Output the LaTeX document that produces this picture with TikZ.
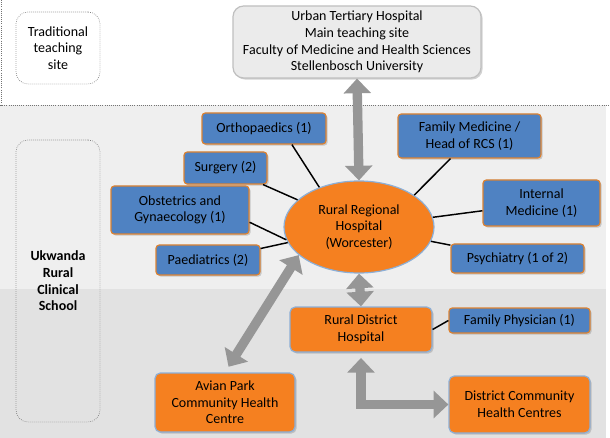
\documentclass[tikz,border=0pt]{standalone}
\usepackage{fontspec}
\setmainfont{Carlito}
\usetikzlibrary{arrows.meta,shadows,shapes.geometric}
\tikzset{every picture/.style={line width=0.75pt}}
\definecolor{boxblue}{RGB}{79,130,194}
\definecolor{boxblueline}{RGB}{220,130,50}
\definecolor{boxorange}{RGB}{245,128,32}
\definecolor{boxorangeline}{RGB}{140,175,215}
\definecolor{bandlight}{RGB}{239,239,239}
\definecolor{banddark}{RGB}{226,226,226}
\definecolor{arrowgray}{RGB}{150,150,150}

\begin{document}
\begin{tikzpicture}[x=0.75pt,y=0.75pt,yscale=-1,xscale=1,
  sz/.style 2 args={minimum width=#1*0.75pt,minimum height=#2*0.75pt},
  lbl/.style={align=center,inner sep=1pt,text=black,font=\fontsize{10.5}{12.5}\selectfont},
  shade/.style={drop shadow={shadow xshift=1.2pt,shadow yshift=-1.2pt,opacity=0.35}},
  bluebox/.style={lbl,rectangle,rounded corners=2.5pt,fill=boxblue,draw=boxblueline,line width=0.9pt,shade},
  orangebox/.style={lbl,rectangle,rounded corners=4pt,fill=boxorange,draw=boxorangeline,line width=0.9pt,shade},
  sitebox/.style={lbl,rectangle,rounded corners=9pt,draw=black!55,densely dotted,line width=0.5pt},
  spoke/.style={draw=black,line width=1.1pt},
  dblarr/.style={draw=arrowgray,line width=7pt,{Triangle[width=20pt,length=11pt]}-{Triangle[width=20pt,length=11pt]}}]
\useasboundingbox (0,0) rectangle (610,438);

%Background bands
\fill[white] (0,0) rectangle (610,438);
\fill[bandlight] (0,105) rectangle (606,289);
\fill[banddark] (0,289) rectangle (606,438);
\draw[black!55,densely dotted,line width=0.6pt] (0,105) -- (610,105);
\draw[black!55,densely dotted,line width=0.6pt] (1,0) -- (1,105);

%Side labels
\node (trad) at (58,48) [sitebox,sz={84}{72}] {Traditional\\teaching\\site};
\node (ukwanda) at (58,281) [sitebox,sz={84}{282}] {\textbf{Ukwanda}\\\textbf{Rural}\\\textbf{Clinical}\\\textbf{School}};

%Urban hospital
\node (urban) at (357,42) [lbl,rectangle,rounded corners=8pt,fill=black!8,draw=black!25,line width=0.9pt,shade,sz={248}{72}] {Urban Tertiary Hospital\\Main teaching site\\Faculty of Medicine and Health Sciences\\Stellenbosch University};

%Regional hospital
\node (rrh) at (359,227) [lbl,ellipse,fill=boxorange,draw=boxorangeline,line width=0.9pt,sz={150}{92}] {Rural Regional\\Hospital\\(Worcester)};

%Departments
\node (ortho) at (264,128.5) [bluebox,sz={124}{31}] {Orthopaedics (1)};
\node (fammed) at (469.5,136) [bluebox,sz={143}{44}] {Family Medicine /\\Head of RCS (1)};
\node (surgery) at (225.5,168) [bluebox,sz={83}{32}] {Surgery (2)};
\node (internal) at (541.5,203) [bluebox,sz={117}{46}] {Internal\\Medicine (1)};
\node (obst) at (180,210) [bluebox,sz={138}{48}] {Obstetrics and\\Gynaecology (1)};
\node (paed) at (208,260) [bluebox,sz={104}{30}] {Paediatrics (2)};
\node (psych) at (517.5,258.5) [bluebox,sz={133}{29}] {Psychiatry (1 of 2)};

%District level
\node (rdh) at (361,329.5) [orangebox,sz={142}{45}] {Rural District\\Hospital};
\node (famphys) at (519.5,320.5) [bluebox,sz={141}{25}] {Family Physician (1)};
\node (avian) at (225,402.5) [orangebox,sz={140}{59}] {Avian Park\\Community Health\\Centre};
\node (dch) at (519.5,404.5) [orangebox,sz={141}{57}] {District Community\\Health Centres};

%Spokes
\draw[spoke] (ortho.-30) -- (rrh.135);
\draw[spoke] (surgery) -- (rrh);
\draw[spoke] (obst.-10) -- (rrh.190);
\draw[spoke] (paed) -- (rrh);
\draw[spoke] (fammed.-130) -- (rrh.30);
\draw[spoke] (internal) -- (rrh);
\draw[spoke] (psych) -- (rrh);
\draw[spoke] (rdh.east) -- (famphys.west);

%Links
\draw[dblarr] (urban.south) -- (rrh.north);
\draw[dblarr] (rrh.south) -- (rdh.north);
\draw[dblarr,shorten >=5pt] (rrh.205) -- (avian.north);
\draw[dblarr,shorten <=4pt] (rdh.south) |- (dch.west);

\end{tikzpicture}
\end{document}
